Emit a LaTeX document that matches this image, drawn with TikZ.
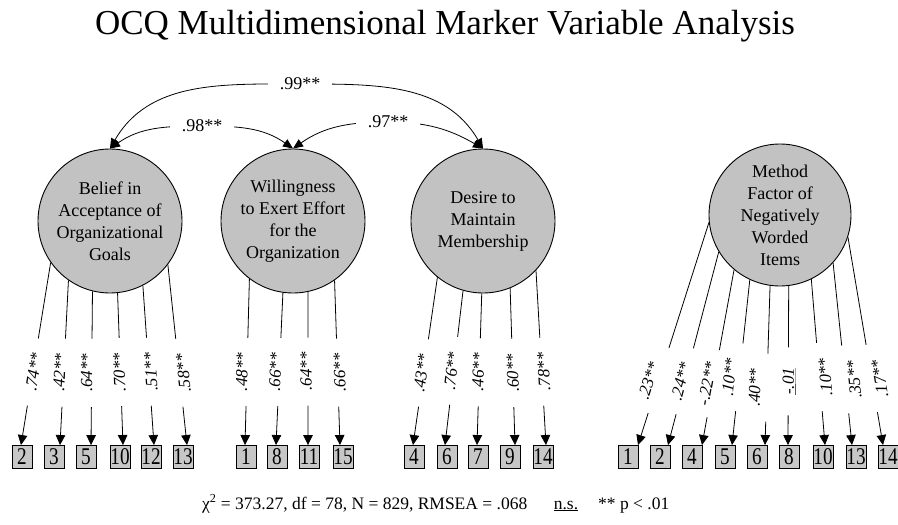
\documentclass[tikz,border=0pt]{standalone}
\usepackage{fontspec}
\setmainfont{Liberation Serif}
\usepackage{graphicx}
\usetikzlibrary{arrows.meta,calc}
\begin{document}
\begin{tikzpicture}[x=1pt,y=-1pt,
  factor/.style={circle, draw=black, line width=0.9pt, fill=black!24, minimum size=144pt, inner sep=0pt, align=center, font=\fontsize{18}{22}\selectfont},
  item/.style={draw=black, line width=0.9pt, fill=black!22, minimum width=20pt, minimum height=23pt, inner xsep=2.5pt, inner ysep=0pt},
  itemtext/.style={font=\fontsize{24}{24}\selectfont, inner sep=0pt},
  load/.style={draw=black, line width=0.8pt, {Triangle[length=10pt,width=9.5pt]}-},
  gap/.style={sloped, allow upside down, fill=white, minimum width=68pt, minimum height=13pt, inner sep=0pt},
  lab/.style={sloped, allow upside down, inner sep=0pt, font=\fontsize{17}{17}\selectfont\itshape},
  cov/.style={draw=black, line width=0.8pt, {Triangle[length=10pt,width=8.5pt]}-{Triangle[length=10pt,width=8.5pt]}},
  covlab/.style={fill=white, inner xsep=12pt, inner ysep=1pt, font=\fontsize{18}{18}\selectfont},
  txt/.style={font=\fontsize{17.5}{17.5}\selectfont, inner sep=0pt}
]
\useasboundingbox (0,0) rectangle (898,525);
\clip (0,0) rectangle (898,525);

% title
\node[font=\fontsize{35}{35}\selectfont, anchor=base, inner sep=0pt] (title) at (445,34) {OCQ Multidimensional Marker Variable Analysis};

% factors
\node[factor] (cb) at (110,221) {Belief in\\Acceptance of\\Organizational\\Goals};
\node[factor] (cw) at (293,221) {Willingness\\to Exert Effort\\for the\\Organization};
\node[factor] (cd) at (483,221) {Desire to\\Maintain\\Membership};
\node[factor, minimum size=142pt] (cm) at (780,215) {Method\\Factor of\\Negatively\\Worded\\Items};

% items
\foreach \n/\x in {bb2/22, bb3/54, bb5/86, bb10/120, bb12/151, bb13/183,
                   bw1/246, bw8/277, bw11/309, bw15/343,
                   bd4/414, bd6/447, bd7/478, bd9/510, bd14/543,
                   bm1/628, bm2/660, bm4/692, bm5/725, bm6/757, bm8/789, bm10/823, bm13/856, bm14/888}
  {\node[item] (\n) at (\x,457) {};}
\foreach \n/\t in {bb2/2, bb3/3, bb5/5, bb10/10, bb12/12, bb13/13,
                   bw1/1, bw8/8, bw11/11, bw15/15,
                   bd4/4, bd6/6, bd7/7, bd9/9, bd14/14,
                   bm1/1, bm2/2, bm4/4, bm5/5, bm6/6, bm8/8, bm10/10, bm13/13, bm14/14}
  {\node[itemtext] (t\n) at (\n.center) {\scalebox{0.8}[1]{\t}};}

% loadings: box / factor / anchor angle / tip shift / label / pos / label offset
\foreach \b/\c/\a/\d/\l/\p/\o in {
   bb2/cb/215/-1/.74**/.40/1, bb3/cb/235/6/.42**/.44/-4, bb5/cb/256/5/.64**/.47/-5,
   bb10/cb/276/3/.70**/.48/-1, bb12/cb/297/3/.51**/.46/2, bb13/cb/323/4/.58**/.40/4,
   bw1/cw/233/-1/.48**/.44/-5, bw8/cw/262/-1/.66**/.48/-4, bw11/cw/282/-1/.64**/.48/-2, bw15/cw/305/-3/.66**/.44/2,
   bd4/cd/231/-1/.43**/.43/-2, bd6/cd/254/-2/.76**/.48/-2, bd7/cd/269/-1/.46**/.48/-1, bd9/cd/292/5/.60**/.46/0, bd14/cd/317/3/.78**/.42/2,
   bm1/cm/186/10/.23**/.29/-10, bm2/cm/211/8/.24**/.33/-4, bm4/cm/230/10/-.22**/.35/-6, bm5/cm/245/7/.10**/.41/-10,
   bm6/cm/262/8/.40**/.36/-12, bm8/cm/277/-1/\underline{-.01}/.40/1, bm10/cm/296/2/.10**/.41/6,
   bm13/cm/318/-4/.35**/.36/9, bm14/cm/342/-5/.17**/.32/8}
  {\draw[load] ([xshift=\d pt]\b.north) -- node[gap, pos=\p] {} (\c.\a);
   \path ([xshift=\d pt, xshift=\o pt]\b.north) -- node[lab, pos=\p] {\l} ([xshift=\o pt]\c.\a);}

% covariances
\coordinate (m99) at (300,84);
\coordinate (m98) at (202,126);
\coordinate (m97) at (388,122);
\draw[cov] (cb.north) to[out=60,in=180] (m99) to[out=0,in=120] (cd.north);
\draw[cov] (cb.north) to[out=35,in=180] (m98) to[out=0,in=145] (cw.north);
\draw[cov] (cw.north) to[out=35,in=180] (m97) to[out=0,in=150] (cd.north);
\node[covlab] (l99) at (m99) {.99**};
\node[covlab] (l98) at (m98) {.98**};
\node[covlab] (l97) at (m97) {.97**};

% footer
\node[txt, anchor=base west] (stats) at (202,509) {χ\textsuperscript{2} = 373.27, df = 78, N = 829, RMSEA = .068};
\node[txt, anchor=base] (ns) at (566,509) {\underline{n.s.}};
\node[txt, anchor=base west] (sig) at (598,509) {** p < .01};
\end{tikzpicture}
\end{document}
